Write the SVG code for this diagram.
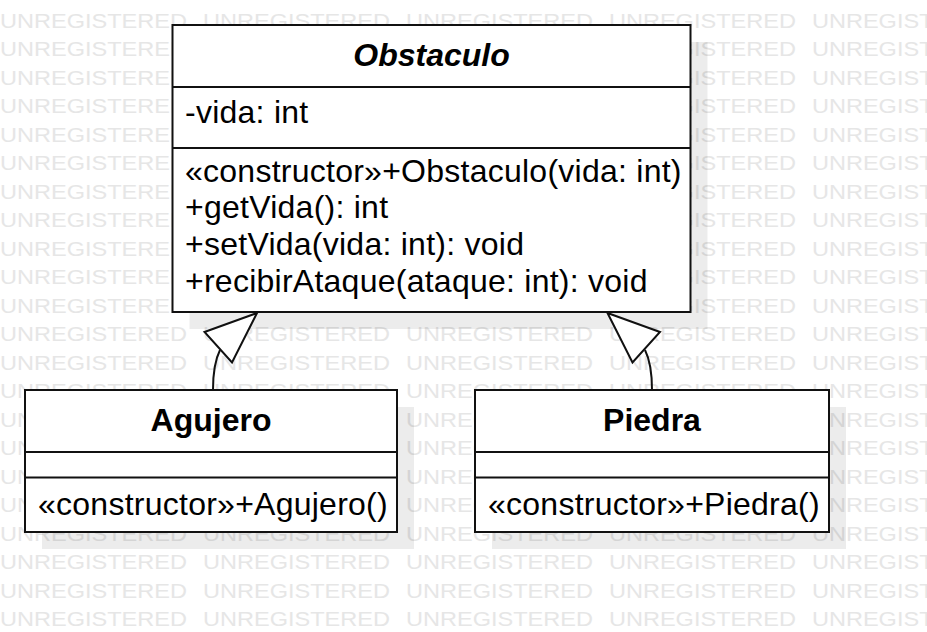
<svg xmlns="http://www.w3.org/2000/svg" width="927" height="632" viewBox="0 0 927 632">
<style>
.wm{font-family:"Liberation Sans",Arial,sans-serif;font-size:21px;fill:#e6e6e6;word-spacing:8.46px}
.box{fill:#fff;stroke:#111;stroke-width:2}
.sh{fill:#000;fill-opacity:0.075}
.div{stroke:#111;stroke-width:2}
.t{font-family:"Liberation Sans",Arial,sans-serif;font-size:32px;letter-spacing:0.25px;fill:#000}
.name{font-family:"Liberation Sans",Arial,sans-serif;font-size:32px;font-weight:bold;fill:#000;text-anchor:middle}
.edge{fill:none;stroke:#111;stroke-width:2}
.head{fill:#fff;stroke:#111;stroke-width:2;stroke-linejoin:miter}
</style>
<rect width="927" height="632" fill="#fff"/>
<g id="watermark" transform="scale(1.121,1)">
<text class="wm" x="0" y="28">UNREGISTERED UNREGISTERED UNREGISTERED UNREGISTERED UNREGISTERED</text>
<text class="wm" x="0" y="56.5">UNREGISTERED UNREGISTERED UNREGISTERED UNREGISTERED UNREGISTERED</text>
<text class="wm" x="0" y="85">UNREGISTERED UNREGISTERED UNREGISTERED UNREGISTERED UNREGISTERED</text>
<text class="wm" x="0" y="113.5">UNREGISTERED UNREGISTERED UNREGISTERED UNREGISTERED UNREGISTERED</text>
<text class="wm" x="0" y="142">UNREGISTERED UNREGISTERED UNREGISTERED UNREGISTERED UNREGISTERED</text>
<text class="wm" x="0" y="170.5">UNREGISTERED UNREGISTERED UNREGISTERED UNREGISTERED UNREGISTERED</text>
<text class="wm" x="0" y="199">UNREGISTERED UNREGISTERED UNREGISTERED UNREGISTERED UNREGISTERED</text>
<text class="wm" x="0" y="227.5">UNREGISTERED UNREGISTERED UNREGISTERED UNREGISTERED UNREGISTERED</text>
<text class="wm" x="0" y="256">UNREGISTERED UNREGISTERED UNREGISTERED UNREGISTERED UNREGISTERED</text>
<text class="wm" x="0" y="284.5">UNREGISTERED UNREGISTERED UNREGISTERED UNREGISTERED UNREGISTERED</text>
<text class="wm" x="0" y="313">UNREGISTERED UNREGISTERED UNREGISTERED UNREGISTERED UNREGISTERED</text>
<text class="wm" x="0" y="341.5">UNREGISTERED UNREGISTERED UNREGISTERED UNREGISTERED UNREGISTERED</text>
<text class="wm" x="0" y="370">UNREGISTERED UNREGISTERED UNREGISTERED UNREGISTERED UNREGISTERED</text>
<text class="wm" x="0" y="398.5">UNREGISTERED UNREGISTERED UNREGISTERED UNREGISTERED UNREGISTERED</text>
<text class="wm" x="0" y="427">UNREGISTERED UNREGISTERED UNREGISTERED UNREGISTERED UNREGISTERED</text>
<text class="wm" x="0" y="455.5">UNREGISTERED UNREGISTERED UNREGISTERED UNREGISTERED UNREGISTERED</text>
<text class="wm" x="0" y="484">UNREGISTERED UNREGISTERED UNREGISTERED UNREGISTERED UNREGISTERED</text>
<text class="wm" x="0" y="512.5">UNREGISTERED UNREGISTERED UNREGISTERED UNREGISTERED UNREGISTERED</text>
<text class="wm" x="0" y="541">UNREGISTERED UNREGISTERED UNREGISTERED UNREGISTERED UNREGISTERED</text>
<text class="wm" x="0" y="569.5">UNREGISTERED UNREGISTERED UNREGISTERED UNREGISTERED UNREGISTERED</text>
<text class="wm" x="0" y="598">UNREGISTERED UNREGISTERED UNREGISTERED UNREGISTERED UNREGISTERED</text>
<text class="wm" x="0" y="626.5">UNREGISTERED UNREGISTERED UNREGISTERED UNREGISTERED UNREGISTERED</text>
</g>
<g id="shadows">
<rect class="sh" x="189.5" y="42" width="518" height="287"/>
<rect class="sh" x="42" y="407" width="372" height="142"/>
<rect class="sh" x="492" y="407" width="354" height="142"/>
</g>
<g id="obstaculo">
<rect class="box" x="172.5" y="25" width="518" height="287"/>
<line class="div" x1="172.5" y1="87" x2="690.5" y2="87"/>
<line class="div" x1="172.5" y1="148" x2="690.5" y2="148"/>
<text class="name" x="431.5" y="66" font-style="italic">Obstaculo</text>
<text class="t" x="185" y="123">-vida: int</text>
<text class="t" x="185" y="181.5">«constructor»+Obstaculo(vida: int)</text>
<text class="t" x="185" y="218.2">+getVida(): int</text>
<text class="t" x="185" y="254.9">+setVida(vida: int): void</text>
<text class="t" x="185" y="291.6">+recibirAtaque(ataque: int): void</text>
</g>
<g id="agujero">
<rect class="box" x="25" y="390" width="372" height="142"/>
<line class="div" x1="25" y1="452" x2="397" y2="452"/>
<line class="div" x1="25" y1="477.5" x2="397" y2="477.5"/>
<text class="name" x="211" y="431">Agujero</text>
<text class="t" x="38" y="515">«constructor»+Agujero()</text>
</g>
<g id="piedra">
<rect class="box" x="475" y="390" width="354" height="142"/>
<line class="div" x1="475" y1="452" x2="829" y2="452"/>
<line class="div" x1="475" y1="477.5" x2="829" y2="477.5"/>
<text class="name" x="652" y="431">Piedra</text>
<text class="t" x="488" y="515">«constructor»+Piedra()</text>
</g>
<g id="connectors">
<path class="edge" d="M213,390 Q213,364 220,350"/>
<polygon class="head" points="257,313 204.5,332 232,362.5"/>
<path class="edge" d="M652,390 Q652,364 645,350"/>
<polygon class="head" points="607.5,313 660,332 632.5,362.5"/>
</g>
</svg>
